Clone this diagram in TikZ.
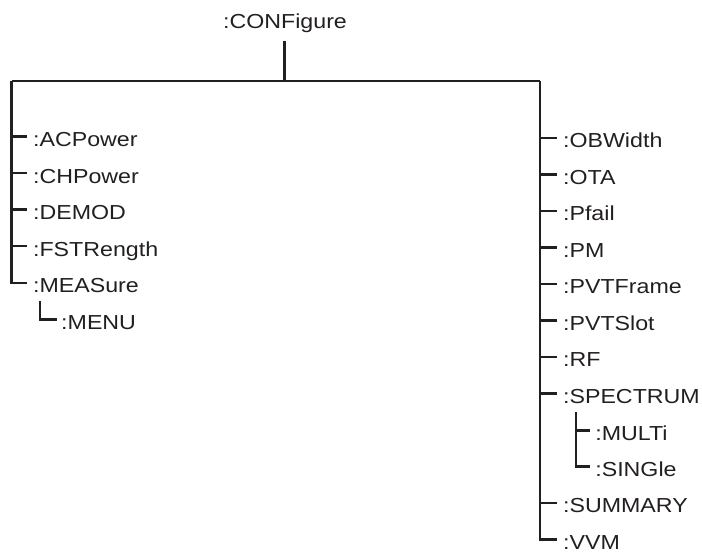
\documentclass[tikz,border=0pt]{standalone}
\usepackage{fontspec}
\setmainfont{Liberation Sans}[FakeStretch=1.145]
\definecolor{ink}{RGB}{35,31,32}
\begin{document}
\begin{tikzpicture}[x=0.75pt,y=-0.75pt,
  wire/.style={draw=ink,line width=1.9pt},
  item/.style={anchor=west,inner xsep=4.6pt,inner ysep=0pt,text height=15pt,text depth=0pt,
    font=\fontsize{15.2pt}{18pt}\selectfont,text=ink}]
\useasboundingbox (0,0) rectangle (702,551);
% root
\node[inner sep=0pt,anchor=base,font=\fontsize{15.2pt}{18pt}\selectfont,text=ink] (root) at (285,28.3) {:CONFigure};
\coordinate (bl) at (11.7,81);
\coordinate (br) at (540,81);
\coordinate (junc) at (284.3,81);
\draw[wire,shorten <=6.2pt] (root.south -| junc) -- (junc);
\draw[wire] (bl) -- (br);
% left items
\node[item] (ac) at (26.7,136.7) {:ACPower};
\node[item] (ch) at (26.7,173.2) {:CHPower};
\node[item] (dem) at (26.7,209.7) {:DEMOD};
\node[item] (fst) at (26.7,246.2) {:FSTRength};
\node[item] (meas) at (26.7,282.9) {:MEASure};
\node[item,inner xsep=3.2pt] (menu) at (56.7,319.4) {:MENU};
\draw[wire] (bl) |- (meas.west);
\foreach \n in {ac,ch,dem,fst}{\draw[wire] (bl |- \n.west) -- (\n.west);}
\coordinate (mtop) at (40,300.8);
\draw[wire] (mtop) |- (menu.west);
% right items
\node[item] (obw) at (556.7,137.8) {:OBWidth};
\node[item] (ota) at (556.7,174.3) {:OTA};
\node[item] (pf) at (556.7,210.8) {:Pfail};
\node[item] (pm) at (556.7,247.3) {:PM};
\node[item] (pvf) at (556.7,283.8) {:PVTFrame};
\node[item] (pvs) at (556.7,320.3) {:PVTSlot};
\node[item] (rf) at (556.7,356.8) {:RF};
\node[item] (spec) at (556.7,393.3) {:SPECTRUM};
\node[item,inner xsep=3.8pt] (multi) at (590,430.3) {:MULTi};
\node[item,inner xsep=3.8pt] (single) at (590,466.5) {:SINGle};
\node[item] (sum) at (556.7,502.8) {:SUMMARY};
\node[item] (vvm) at (556.7,539.3) {:VVM};
\draw[wire] (br) |- (vvm.west);
\foreach \n in {obw,ota,pf,pm,pvf,pvs,rf,spec,sum}{\draw[wire] (br |- \n.west) -- (\n.west);}
\coordinate (stop) at (576,411.7);
\draw[wire] (stop) |- (single.west);
\draw[wire] (stop |- multi.west) -- (multi.west);
\end{tikzpicture}
\end{document}
